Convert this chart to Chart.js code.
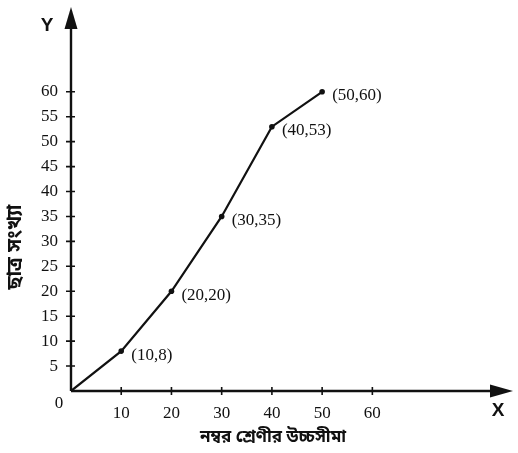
<!DOCTYPE html>
<html>
<head>
<meta charset="utf-8">
<script src="https://cdn.jsdelivr.net/npm/chart.js@4.4.1/dist/chart.umd.min.js"></script>
<style>
html,body{margin:0;padding:0;background:#fff;}
#wrap{width:518px;height:453px;}
</style>
</head>
<body>
<div id="wrap"><canvas id="c" width="518" height="453"></canvas></div>
<script>
// Data
const upperLimits = [0, 10, 20, 30, 40, 50];
const studentCounts = [0, 8, 20, 35, 53, 60];
const xTickValues = [10, 20, 30, 40, 50, 60];
const yTickValues = [5, 10, 15, 20, 25, 30, 35, 40, 45, 50, 55, 60];
const xTitle = 'নম্বর শ্রেণীর উচ্চসীমা';
const yTitle = 'ছাত্র সংখ্যা';

const serif = '"Liberation Serif", "DejaVu Serif", serif';
const bengali = '"Noto Sans Bengali", "Noto Serif Bengali", "Lohit Bengali", "Noto Sans", sans-serif';

const axesPlugin = {
  id: 'axesPlugin',
  afterDraw(chart) {
    const ctx = chart.ctx;
    const xs = chart.scales.x, ys = chart.scales.y;
    const x0 = xs.getPixelForValue(0), y0 = ys.getPixelForValue(0);
    const top = chart.chartArea.top, right = chart.chartArea.right;
    ctx.save();
    ctx.strokeStyle = '#111';
    ctx.fillStyle = '#111';
    ctx.lineWidth = 2.4;
    // axes lines
    ctx.beginPath();
    ctx.moveTo(x0, y0); ctx.lineTo(x0, top + 18);
    ctx.moveTo(x0, y0); ctx.lineTo(right - 20, y0);
    ctx.stroke();
    // arrows
    ctx.beginPath();
    ctx.moveTo(x0, top); ctx.lineTo(x0 - 6.5, top + 22); ctx.lineTo(x0 + 6.5, top + 22); ctx.closePath(); ctx.fill();
    ctx.beginPath();
    ctx.moveTo(right, y0); ctx.lineTo(right - 23, y0 - 6.5); ctx.lineTo(right - 23, y0 + 6.5); ctx.closePath(); ctx.fill();
    // tick marks
    ctx.lineWidth = 1.6;
    ctx.beginPath();
    xTickValues.forEach(v => { const p = xs.getPixelForValue(v); ctx.moveTo(p, y0 - 4); ctx.lineTo(p, y0 + 4); });
    yTickValues.forEach(v => { const p = ys.getPixelForValue(v); ctx.moveTo(x0 - 5, p); ctx.lineTo(x0 + 4, p); });
    ctx.stroke();
    // origin label
    ctx.font = '17px ' + serif;
    ctx.textAlign = 'center'; ctx.textBaseline = 'middle';
    ctx.fillText('0', x0 - 12, y0 + 13);
    // axis letters
    ctx.font = 'bold 19px "Liberation Sans", Arial, sans-serif';
    ctx.fillText('X', right - 15, y0 + 20);
    ctx.fillText('Y', x0 - 24, top + 19);
    // titles
    ctx.font = 'bold 17px ' + bengali;
    ctx.fillText(xTitle, 273, 439);
    ctx.save();
    ctx.translate(17, 247);
    ctx.rotate(-Math.PI / 2);
    ctx.font = 'bold 20px ' + bengali;
    ctx.fillText(yTitle, 0, 0);
    ctx.restore();
    // point labels
    const meta = chart.getDatasetMeta(0);
    ctx.font = '17px ' + serif;
    ctx.textAlign = 'left'; ctx.textBaseline = 'middle';
    meta.data.forEach((pt, i) => {
      if (i === 0) return;
      ctx.fillText('(' + upperLimits[i] + ',' + studentCounts[i] + ')', pt.x + 10, pt.y + 4);
    });
    ctx.restore();
  }
};

new Chart(document.getElementById('c'), {
  type: 'line',
  data: {
    datasets: [{
      data: upperLimits.map((x, i) => ({ x: x, y: studentCounts[i] })),
      borderColor: '#111',
      backgroundColor: '#111',
      borderWidth: 2.2,
      pointRadius: upperLimits.map((x, i) => i === 0 ? 0 : 2.8),
      pointBorderWidth: 0,
      tension: 0
    }]
  },
  options: {
    responsive: false,
    animation: false,
    layout: { padding: { left: 0, top: 7, right: 5, bottom: 0 } },
    plugins: { legend: { display: false }, tooltip: { enabled: false } },
    scales: {
      x: {
        type: 'linear', min: 0, max: 88,
        grid: { display: false, drawTicks: false },
        border: { display: false },
        ticks: { stepSize: 10, color: '#111', padding: 12, font: { family: serif, size: 17 }, maxRotation: 0 },
        afterBuildTicks(s) { s.ticks = xTickValues.map(v => ({ value: v })); },
        afterFit(s) { s.height = 62; s.paddingLeft = 0; s.paddingRight = 0; }
      },
      y: {
        type: 'linear', min: 0, max: 77,
        grid: { display: false, drawTicks: false },
        border: { display: false },
        ticks: { stepSize: 5, color: '#111', padding: 13, font: { family: serif, size: 17 } },
        afterBuildTicks(s) { s.ticks = yTickValues.map(v => ({ value: v })); },
        afterFit(s) { s.width = 71; s.paddingTop = 0; s.paddingBottom = 0; }
      }
    }
  },
  plugins: [axesPlugin]
});
</script>
</body>
</html>
